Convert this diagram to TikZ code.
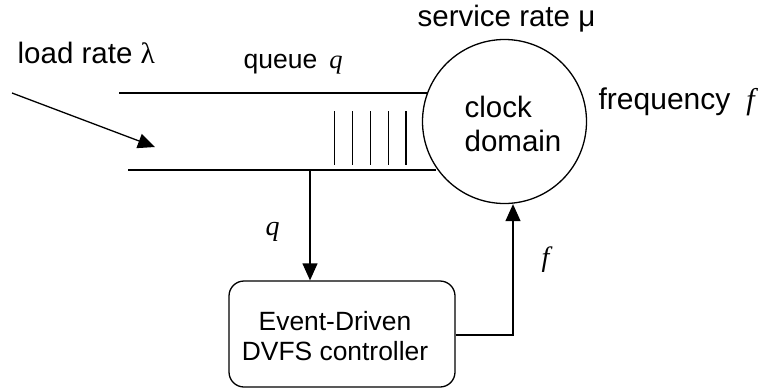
\documentclass[tikz,border=0pt]{standalone}
\usepackage{fontspec}
\setmainfont{Liberation Sans}
\newfontfamily\varfont{Liberation Serif}
\usetikzlibrary{arrows.meta}
\newcommand{\mvar}[1]{{\varfont\itshape #1}}
\begin{document}
\begin{tikzpicture}[x=1pt,y=-1pt,line width=1.3pt,
  lbl/.style={inner sep=0pt,anchor=base west},
  big/.style={font=\fontsize{29.5}{34}\selectfont},
  mid/.style={font=\fontsize{26.4}{30}\selectfont},
  tip/.style={-{Triangle[length=17pt,width=15pt]}}]
\useasboundingbox (0,0) rectangle (760,389);

% server: the clock domain
\node[draw,circle,minimum size=164pt,inner sep=0pt] (cd) at (504.5,121.5) {};
\node[big,inner sep=0pt,anchor=north west,align=left] (cdtext) at (464,95) {clock\\domain};

% controller box
\node[draw,rounded corners=15pt,minimum width=226pt,minimum height=106pt,inner sep=0pt] (ctrl) at (342,334) {};
\node[mid,inner sep=0pt,anchor=north,align=center] (ctrltext) at (335,311) {Event-Driven\\DVFS controller};

% queue walls
\coordinate (qtl) at (119,93);
\coordinate (qtr) at (427,93);
\coordinate (qbl) at (128,170);
\coordinate (qbr) at (436,170);
\draw (qtl) -- (qtr);
\draw (qbl) -- (qbr);

% waiting items
\foreach \i in {0,...,4}
  \draw ({334.5+17.9*\i},111) -- ({334.5+17.9*\i},165);

% arrivals
\coordinate (src) at (12,93);
\coordinate (arr) at (155,147);
\draw[tip] (src) -- (arr);

% queue length to the controller
\coordinate (qtap) at (310,170);
\draw[tip] (qtap) -- (qtap |- ctrl.north);

% frequency back to the clock domain
\coordinate (fturn) at (513,335);
\draw[tip] (ctrl.east |- fturn) -- (fturn) -- (fturn |- cd.south);

% labels
\node[lbl,big] (load) at (17,63) {load rate {\varfont λ}};
\node[lbl,font=\fontsize{26.5}{30}\selectfont] (queue) at (243,68) {queue\hspace{12pt}\mvar{q}};
\node[lbl,big] (svc) at (417,26) {service rate μ};
\node[lbl,font=\fontsize{30}{34}\selectfont] (freq) at (598,109) {frequency\hspace{16pt}\mvar{f}};
\node[lbl,font=\fontsize{28}{32}\selectfont] (qlbl) at (265,235) {\mvar{q}};
\node[lbl,font=\fontsize{28}{32}\selectfont] (flbl) at (541,266) {\mvar{f}};
\end{tikzpicture}
\end{document}
